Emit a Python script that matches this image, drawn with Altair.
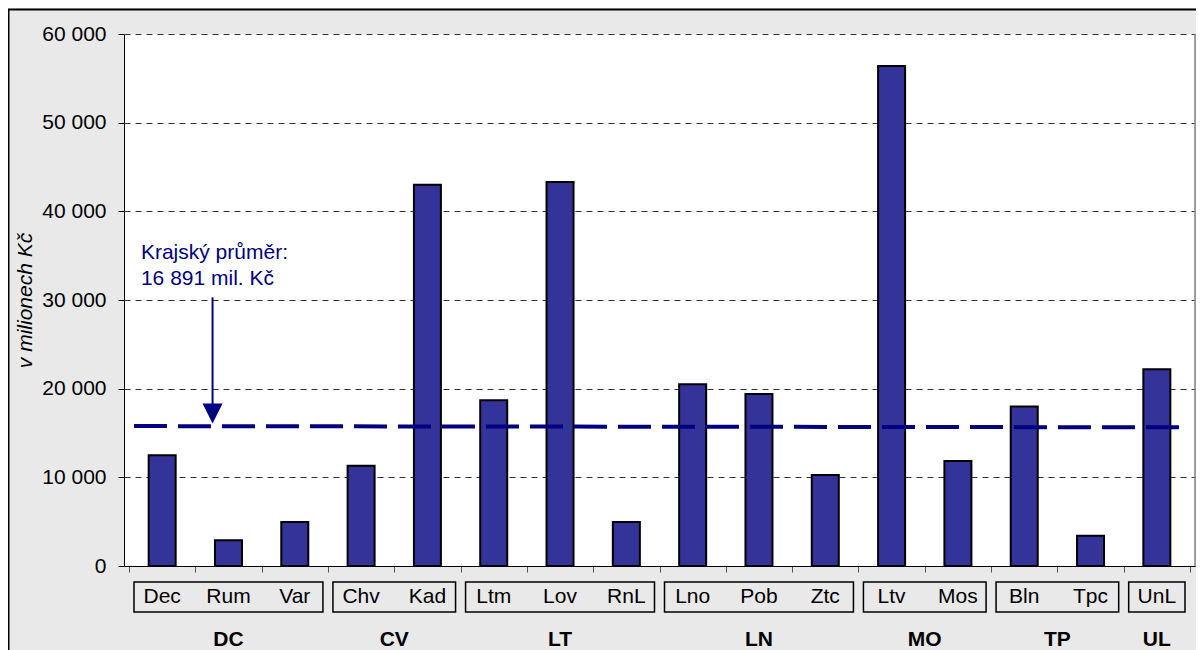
import altair as alt
import pandas as pd

# ---- data ----
okresy = ["Dec", "Rum", "Var", "Chv", "Kad", "Ltm", "Lov", "RnL",
          "Lno", "Pob", "Ztc", "Ltv", "Mos", "Bln", "Tpc", "UnL"]
hodnoty = [12480, 2900, 4950, 11300, 43000, 18700, 43300, 4950,
           20500, 19400, 10250, 56400, 11850, 18000, 3400, 22200]
kraje = ["DC", "CV", "LT", "LN", "MO", "TP", "UL"]
pocty_okresu = [3, 2, 3, 3, 2, 2, 1]
prumer_popis = ["Krajský průměr:", "16 891 mil. Kč"]
prumer_cara = [15780, 15640]          # level of the dashed line as drawn (left, right)
y_ticks = [0, 10000, 20000, 30000, 40000, 50000, 60000]

FONT = "Liberation Sans"
FS = 21
NAVY = "#000080"
BAR = "#333399"
W, H = 1071, 532
N = len(okresy)

df = pd.DataFrame({"okres": okresy, "hodnota": hodnoty,
                   "pos": [i + 0.5 for i in range(N)]})

starts, ends = [], []
s = 0
for c in pocty_okresu:
    starts.append(s)
    ends.append(s + c)
    s += c
grp = pd.DataFrame({"kraj": kraje, "start": starts, "end": ends,
                    "mid": [(a + b) / 2 for a, b in zip(starts, ends)]})

xs = alt.Scale(domain=[0, N], nice=False, zero=False)
ys = alt.Scale(domain=[0, 60000], nice=False)

bars = alt.Chart(df).mark_bar(size=27, fill=BAR, stroke="black", strokeWidth=2).encode(
    x=alt.X("pos:Q", scale=xs,
            axis=alt.Axis(values=list(range(N + 1)), labels=False, tickSize=6,
                          tickColor="#555555", domainColor="black", grid=False,
                          title="")),
    y=alt.Y("hodnota:Q", scale=ys,
            axis=alt.Axis(values=y_ticks,
                          labelExpr="replace(format(datum.value, ','), ',', ' ')",
                          labelFont=FONT, labelFontSize=FS, labelColor="black",
                          labelPadding=12, tickSize=6, tickColor="black",
                          domainColor="black", grid=True, gridDash=[6, 5],
                          gridColor="#333333", gridWidth=1,
                          title="v milionech Kč", titleFont=FONT, titleFontSize=FS,
                          titleFontStyle="italic", titleFontWeight="normal",
                          titleColor="black", titleAngle=270, titleX=-99, titleY=266,
                          titleAlign="center", titleBaseline="middle")),
)

one = pd.DataFrame({"a": [0]})

right_edge = alt.Chart(one).mark_rule(color="#808080", strokeWidth=1.5).encode(
    x=alt.value(W), y=alt.value(0), y2=alt.value(H))

avg_df = pd.DataFrame({"x": [0.075], "x2": [15.9],
                       "y": [prumer_cara[0]], "y2": [prumer_cara[1]]})
avg_line = alt.Chart(avg_df).mark_rule(color=NAVY, strokeWidth=4, strokeDash=[33, 11]).encode(
    x=alt.X("x:Q", scale=xs), x2="x2",
    y=alt.Y("y:Q", scale=ys), y2="y2")

arrow_df = pd.DataFrame({"x": [1.26], "y": [30300], "y2": [17200]})
arrow_line = alt.Chart(arrow_df).mark_rule(color=NAVY, strokeWidth=2).encode(
    x=alt.X("x:Q", scale=xs),
    y=alt.Y("y:Q", scale=ys), y2="y2")
arrow_head = alt.Chart(arrow_df).mark_point(
    shape="M-1,-1L1,-1L0,1Z", size=400, filled=True, color=NAVY, opacity=1,
    strokeWidth=0).encode(
    x=alt.X("x:Q", scale=xs),
    y=alt.Y("y2:Q", scale=ys))

ann_df = pd.DataFrame({"t": prumer_popis, "x": [0.18, 0.18], "y": [35290, 32360]})
ann = alt.Chart(ann_df).mark_text(align="left", baseline="middle", font=FONT,
                                  fontSize=FS, color=NAVY).encode(
    x=alt.X("x:Q", scale=xs),
    y=alt.Y("y:Q", scale=ys), text="t:N")

boxes = alt.Chart(grp).mark_rect(fillOpacity=0, stroke="black", strokeWidth=1.5,
                                 xOffset=5, x2Offset=-5).encode(
    x=alt.X("start:Q", scale=xs), x2="end",
    y=alt.value(H + 16), y2=alt.value(H + 46))

cat_labels = alt.Chart(df).mark_text(font=FONT, fontSize=FS, color="black",
                                     baseline="middle").encode(
    x=alt.X("pos:Q", scale=xs), y=alt.value(H + 31), text="okres:N")

grp_labels = alt.Chart(grp).mark_text(font=FONT, fontSize=FS, fontWeight="bold",
                                      color="black", baseline="middle").encode(
    x=alt.X("mid:Q", scale=xs), y=alt.value(H + 74), text="kraj:N")

border = alt.Chart(one).mark_rect(fillOpacity=0, stroke="black", strokeWidth=2).encode(
    x=alt.value(-115.5), x2=alt.value(W + 200), y=alt.value(-24.5), y2=alt.value(H + 200))

chart = alt.layer(
    bars, right_edge, avg_line, arrow_line, arrow_head, ann,
    boxes, cat_labels, grp_labels, border
).properties(
    width=W, height=H,
    autosize=alt.AutoSizeParams(type="none"),
    padding={"left": 116, "top": 26, "right": 1, "bottom": 84},
).configure(
    background="#E9E9E9"
).configure_view(
    fill="white", strokeWidth=0
)

chart.save("out.html", embed_options={"renderer": "svg", "actions": False})
